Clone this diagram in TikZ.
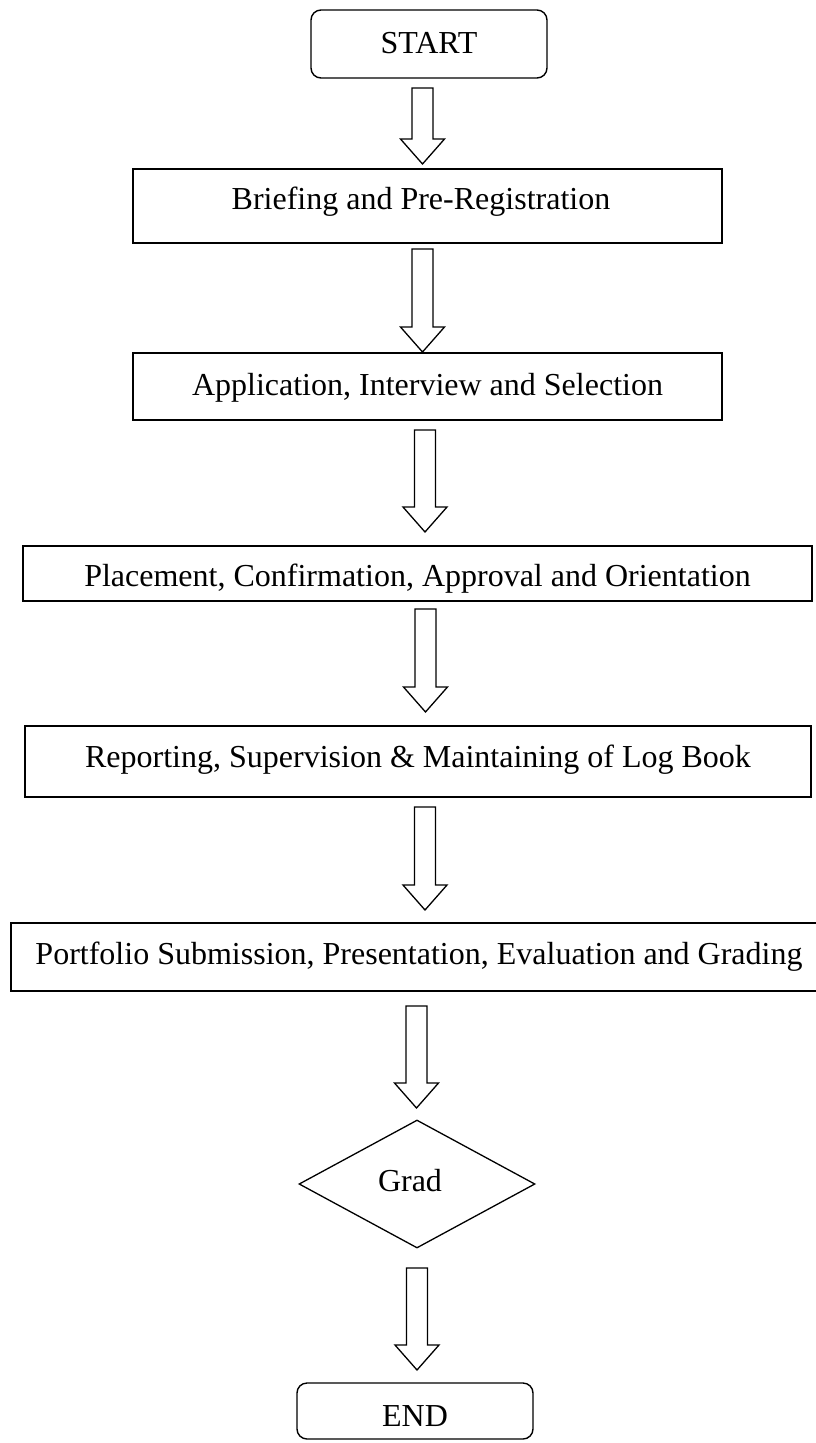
\documentclass[tikz,border=0pt]{standalone}
\usepackage{fontspec}
\setmainfont{Liberation Serif}
\usetikzlibrary{shapes.geometric,calc}
\tikzset{
  flowbox/.style={draw=black, line width=1.6pt, rectangle, inner sep=0pt, text depth=0pt,
    font=\fontsize{32}{38}\selectfont},
  termbox/.style={flowbox, rounded corners=10pt, line width=1.4pt},
  decbox/.style={flowbox, diamond, line width=1.3pt},
  blockarrow/.style={draw=black, line width=1.3pt, line join=miter, fill=white},
  toff/.style={text height=#1pt}
}
\newcommand\blockarr[2]{%
  \draw[blockarrow] let \p1=(#1), \p2=(#2) in
    (\x1-10.5pt,\y1) -- (\x1+10.5pt,\y1) -- (\x1+10.5pt,\y2+25pt) --
    (\x1+22pt,\y2+25pt) -- (\x2,\y2) -- (\x1-22pt,\y2+25pt) --
    (\x1-10.5pt,\y2+25pt) -- cycle;}
\begin{document}
\begin{tikzpicture}[x=1pt,y=-1pt]
\useasboundingbox (0,0) rectangle (815,1443);

\node[termbox, toff=18, minimum width=236pt, minimum height=68pt] (start) at (429,44) {START};
\node[flowbox, toff=6, minimum width=589pt, minimum height=74pt] (brief) at (427.5,206) {\hspace*{-13pt}Briefing and Pre-Registration};
\node[flowbox, toff=17, minimum width=589pt, minimum height=67pt] (app) at (427.5,386.5) {Application, Interview and Selection};
\node[flowbox, toff=25, minimum width=789pt, minimum height=55pt] (place) at (417.5,573.5) {Placement, Confirmation, Approval and Orientation};
\node[flowbox, toff=11, minimum width=786pt, minimum height=71pt] (rep) at (418,761.5) {Reporting, Supervision \& Maintaining of Log Book};
\node[flowbox, toff=14, minimum width=816pt, minimum height=68pt] (port) at (419,957) {Portfolio Submission, Presentation, Evaluation and Grading};
\node[decbox, toff=14, minimum width=236pt, minimum height=128pt] (grad) at (417,1184) {\hspace*{-14pt}Grad};
\node[termbox, toff=30, minimum width=236pt, minimum height=56pt] (end) at (415,1411) {END};

\coordinate (a1t) at (422.5,88);   \coordinate (a1h) at (422.5,164);
\coordinate (a2t) at (422.5,249);  \coordinate (a2h) at (422.5,352);
\coordinate (a3t) at (425,430);    \coordinate (a3h) at (425,532);
\coordinate (a4t) at (425.5,609);  \coordinate (a4h) at (425.5,712);
\coordinate (a5t) at (425,807);    \coordinate (a5h) at (425,910);
\coordinate (a6t) at (416.5,1006); \coordinate (a6h) at (416.5,1108);
\coordinate (a7t) at (417,1268);   \coordinate (a7h) at (417,1370);

\blockarr{a1t}{a1h}
\blockarr{a2t}{a2h}
\blockarr{a3t}{a3h}
\blockarr{a4t}{a4h}
\blockarr{a5t}{a5h}
\blockarr{a6t}{a6h}
\blockarr{a7t}{a7h}
\end{tikzpicture}
\end{document}
